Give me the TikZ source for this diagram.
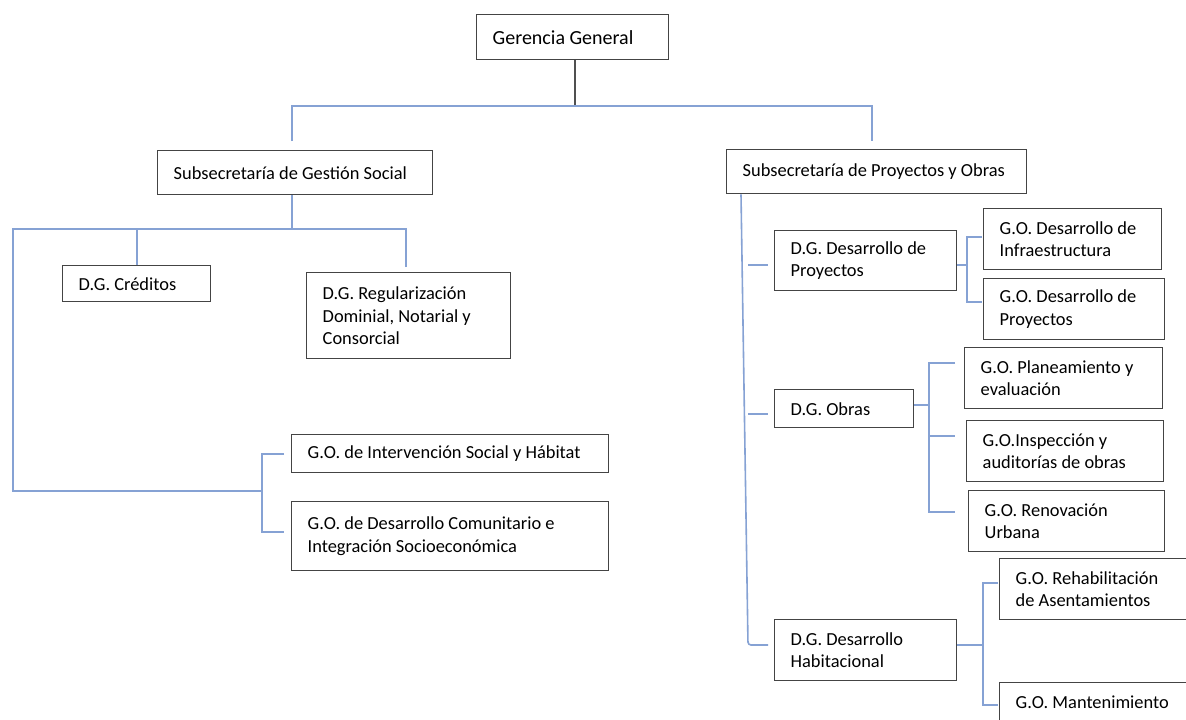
\documentclass[tikz,border=0pt]{standalone}
\usepackage{fontspec}
\setmainfont{Carlito}
\definecolor{boxline}{RGB}{68,68,68}
\definecolor{linkblue}{RGB}{134,162,212}
\definecolor{stemgray}{RGB}{80,80,80}
\begin{document}
\begin{tikzpicture}[x=1pt,y=-1pt,
  box/.style={draw=boxline, line width=1.4pt, fill=white, anchor=north west,
    inner xsep=16pt, inner ysep=0pt, align=left,
    font=\fontsize{18.4}{22.5}\selectfont,
    execute at begin node={\frenchspacing\spaceskip=0pt\xspaceskip=0pt}},
  link/.style={draw=linkblue, line width=1.6pt},
  stemline/.style={draw=stemgray, line width=1.4pt}]
\useasboundingbox (0,0) rectangle (1186,720);
\clip (0,0) rectangle (1186,720);
\fill[white] (0,0) rectangle (1186,720);

% ---------- nodes ----------
\node[box, minimum width=192pt, minimum height=45pt, text width=160pt,
      font=\fontsize{20}{24}\selectfont] (gg) at (476,14) {Gerencia General};
\node[box, minimum width=275pt, minimum height=44pt, text width=243pt] (sgs) at (157,150) {Subsecretaría de Gestión Social};
\node[box, minimum width=300pt, minimum height=44pt, text width=268pt] (spo) at (726,149) {Subsecretaría de Proyectos y Obras};

\node[box, minimum width=148pt, minimum height=36pt, text width=116pt] (cred) at (62,265) {D.G. Créditos};
\node[box, minimum width=204pt, minimum height=86pt, text width=172pt] (reg) at (306,272) {D.G. Regularización\\Dominial, Notarial y\\Consorcial};
\node[box, minimum width=317pt, minimum height=38pt, text width=285pt] (gois) at (291,434) {G.O. de Intervención Social y Hábitat};
\node[box, minimum width=317pt, minimum height=69pt, text width=285pt] (godc) at (291,501) {G.O. de Desarrollo Comunitario e\\Integración Socioeconómica};

\node[box, minimum width=182pt, minimum height=60pt, text width=150pt] (dgdp) at (774,230) {D.G. Desarrollo de\\Proyectos};
\node[box, minimum width=178pt, minimum height=61pt, text width=146pt] (godi) at (983,208) {G.O. Desarrollo de\\Infraestructura};
\node[box, minimum width=181pt, minimum height=61pt, text width=149pt] (godp) at (983,278) {G.O. Desarrollo de\\Proyectos};

\node[box, minimum width=139pt, minimum height=38pt, text width=107pt] (dgo) at (774,389) {D.G. Obras};
\node[box, minimum width=198pt, minimum height=61pt, text width=166pt] (gope) at (964,347) {G.O. Planeamiento y\\evaluación};
\node[box, minimum width=197pt, minimum height=61pt, text width=165pt] (goia) at (966,420) {G.O.Inspección y\\auditorías de obras};
\node[box, minimum width=196pt, minimum height=61pt, text width=164pt] (goru) at (968,490) {G.O. Renovación\\Urbana};

\node[box, minimum width=182pt, minimum height=61pt, text width=150pt] (dgdh) at (774,619) {D.G. Desarrollo\\Habitacional};
\node[box, minimum width=195pt, minimum height=61pt, text width=163pt] (gora) at (999,558) {G.O. Rehabilitación\\de Asentamientos};
\node[box, minimum width=195pt, minimum height=40pt, text width=163pt] (gom) at (999,682) {G.O. Mantenimiento};

% ---------- coordinates ----------
\coordinate (ggbus) at (575,106);
\coordinate (busL) at (292,106);
\coordinate (busR) at (872,106);
\coordinate (sgsIn) at (292,141);
\coordinate (spoIn) at (872,141);

\coordinate (lbus) at (292,229);
\coordinate (lbL) at (13,229);
\coordinate (lbR) at (406,229);
\coordinate (regIn) at (406,267);
\coordinate (lbCorner) at (13,491);
\coordinate (brM) at (262,491);
\coordinate (brT) at (262,454);
\coordinate (brB) at (262,532);
\coordinate (goisIn) at (284,454);
\coordinate (godcIn) at (284,532);

\coordinate (trTop) at (741,193);
\coordinate (trBot) at (748,645);
\coordinate (dhIn) at (768,645);
\coordinate (dpA) at (748,265);
\coordinate (dpB) at (768,265);
\coordinate (doA) at (748,414);
\coordinate (doB) at (768,414);

\coordinate (b1) at (967,265);
\coordinate (b1T) at (967,237);
\coordinate (b1B) at (967,302);
\coordinate (godiIn) at (982,237);
\coordinate (godpIn) at (982,302);

\coordinate (b2) at (929,405);
\coordinate (b2T) at (929,363);
\coordinate (b2M) at (929,436);
\coordinate (b2B) at (929,512);
\coordinate (gopeIn) at (955,363);
\coordinate (goiaIn) at (955,436);
\coordinate (goruIn) at (955,512);

\coordinate (b3) at (983,645);
\coordinate (b3T) at (983,583);
\coordinate (b3B) at (983,705);
\coordinate (goraIn) at (998,583);
\coordinate (gomIn) at (998,705);

% ---------- connectors ----------
\draw[stemline] (gg.south -| ggbus) -- (ggbus);
\draw[link] (sgsIn) -- (busL) -- (busR) -- (spoIn);

\draw[link] (sgs.south -| lbus) -- (lbus);
\draw[link] (regIn) -- (lbR) -- (lbL) -- (lbCorner) -- (brM);
\draw[link] (cred.north) -- (cred.north |- lbL);
\draw[link] (goisIn) -- (brT) -- (brB) -- (godcIn);

\draw[link, rounded corners=3pt] (spo.south -| trTop) -- (trBot) -- (dhIn);
\draw[link] (dpA) -- (dpB);
\draw[link] (doA) -- (doB);

\draw[link] (b1 -| dgdp.east) -- (b1);
\draw[link] (godiIn) -- (b1T) -- (b1B) -- (godpIn);

\draw[link] (b2 -| dgo.east) -- (b2);
\draw[link] (gopeIn) -- (b2T) -- (b2B) -- (goruIn);
\draw[link] (b2M) -- (goiaIn);

\draw[link] (b3 -| dgdh.east) -- (b3);
\draw[link] (goraIn) -- (b3T) -- (b3B) -- (gomIn);
\end{tikzpicture}
\end{document}
